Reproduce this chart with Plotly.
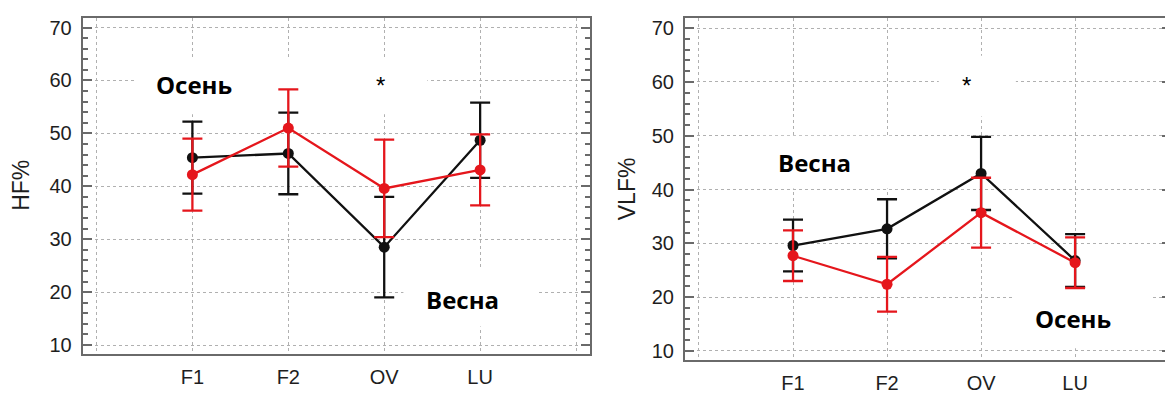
import plotly.graph_objects as go

categories = ["F1", "F2", "OV", "LU"]
cat_pos = [1, 2, 3, 4]

# HF% panel
hf_spring = [45.4, 46.2, 28.5, 48.7]
hf_spring_err = [6.8, 7.7, 9.5, 7.1]
hf_autumn = [42.2, 51.0, 39.6, 43.1]
hf_autumn_err = [6.8, 7.3, 9.2, 6.7]

# VLF% panel
vlf_spring = [29.6, 32.7, 43.0, 26.8]
vlf_spring_err = [4.8, 5.5, 6.8, 4.9]
vlf_autumn = [27.7, 22.4, 35.7, 26.4]
vlf_autumn_err = [4.7, 5.1, 6.5, 4.7]

RED = "#e5161c"
BLACK = "#111111"
GRID = "#b0b0b0"
FRAME = "#6a6a6a"

fig = go.Figure()

def add_series(xa, ya, vals, errs, color):
    fig.add_trace(go.Scatter(
        x=cat_pos, y=vals, xaxis=xa, yaxis=ya, mode="lines+markers",
        line=dict(color=color, width=2.3), marker=dict(color=color, size=11),
        error_y=dict(type="data", array=errs, visible=True, color=color,
                     thickness=2.3, width=10),
        showlegend=False, hoverinfo="skip"))

add_series("x", "y", hf_spring, hf_spring_err, BLACK)
add_series("x", "y", hf_autumn, hf_autumn_err, RED)
add_series("x2", "y2", vlf_spring, vlf_spring_err, BLACK)
add_series("x2", "y2", vlf_autumn, vlf_autumn_err, RED)

tickfont = dict(family="Liberation Sans, Arial", size=20, color="#1e1e1e")

def xaxis(domain, rng):
    return dict(domain=domain, range=rng, tickmode="array",
                tickvals=[0, 1, 2, 3, 4, 5],
                ticktext=[""] + categories + [""],
                showgrid=True, gridcolor=GRID, griddash="dot", gridwidth=1,
                zeroline=False, showline=True, linecolor=FRAME, linewidth=2,
                mirror=True, ticks="", tickfont=tickfont, ticklabelstandoff=4)

def yaxis(domain, rng, anchor):
    return dict(domain=domain, range=rng, anchor=anchor, tickmode="array",
                tickvals=[10, 20, 30, 40, 50, 60, 70],
                showgrid=True, gridcolor=GRID, griddash="dot", gridwidth=1,
                zeroline=False, showline=True, linecolor=FRAME, linewidth=2,
                mirror="ticks", ticks="inside", ticklen=9, tickwidth=1.5,
                tickcolor=FRAME, tickfont=tickfont, ticklabelstandoff=5,
                minor=dict(dtick=2, tick0=0, ticks="inside", ticklen=5,
                           tickwidth=1.5, tickcolor=FRAME, showgrid=False))

# page body has an 8px margin, so the figure is 8px smaller and shifted
W, H = 1165, 386
fig.update_layout(
    width=W, height=H,
    margin=dict(l=0, r=0, t=0, b=0),
    paper_bgcolor="white", plot_bgcolor="white",
    xaxis=xaxis([0.0641, 0.4996], [-0.144, 5.146]),
    yaxis=yaxis([0.0842, 0.9775], [8.25, 71.71], "x"),
    xaxis2=dict(xaxis([0.5811, 0.9983], [-0.149, 5.02]), anchor="y2"),
    yaxis2=yaxis([0.0692, 0.9775], [8.32, 71.81], "x2"),
)

# axis titles
title_font = dict(family="Liberation Sans, Arial", size=23, color="#1e1e1e")
for xp, yp, t in [(21.5 - 8, 188 - 8, "HF%"), (627 - 8, 192 - 8, "VLF%")]:
    fig.add_annotation(xref="paper", yref="paper", x=xp / W, y=1 - yp / H,
                       text=t, textangle=-90, showarrow=False, font=title_font,
                       xanchor="center", yanchor="middle")

# white label patches (between grid and traces)
boxes = [
    ("x", "y", 0.41, 3.45, 53.6, 64.3),
    ("x", "y", 3.2, 4.6, 13.5, 24.5),
    ("x2", "y2", 2.55, 3.37, 53.6, 64.9),
    ("x2", "y2", 0.62, 2.05, 40.2, 50.0),
    ("x2", "y2", 3.36, 4.8, 10.5, 21.7),
]
for xr, yr, x0, x1, y0, y1 in boxes:
    fig.add_shape(type="rect", xref=xr, yref=yr, x0=x0, x1=x1, y0=y0, y1=y1,
                  fillcolor="white", line=dict(width=0), layer="between")

bold = dict(family="Open Sans, Liberation Sans", size=24, color="black", weight="bold")
star = dict(family="Liberation Sans, Arial", size=24, color="black")
labels = [
    ("x", "y", 1.02, 59.3, "Осень", bold),
    ("x", "y", 2.96, 59.0, "*", star),
    ("x", "y", 3.82, 18.6, "Весна", bold),
    ("x2", "y2", 1.23, 45.0, "Весна", bold),
    ("x2", "y2", 2.84, 59.3, "*", star),
    ("x2", "y2", 3.98, 16.0, "Осень", bold),
]
for xr, yr, x, y, t, f in labels:
    fig.add_annotation(xref=xr, yref=yr, x=x, y=y, text=t, showarrow=False,
                       font=f)

fig.write_html("out.html")
